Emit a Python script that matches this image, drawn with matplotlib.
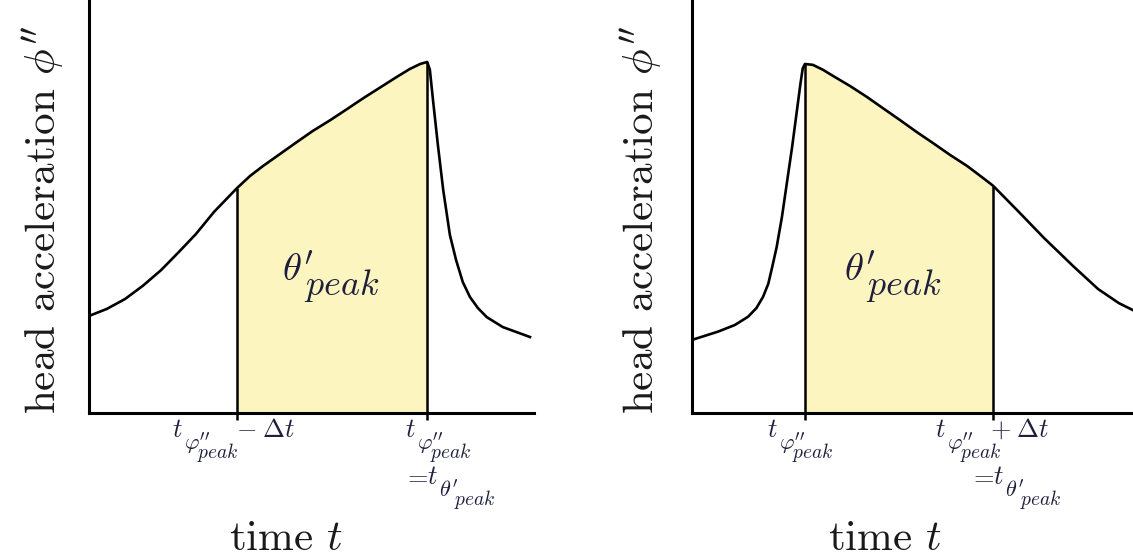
import numpy as np
import matplotlib
matplotlib.use("Agg")
import matplotlib.pyplot as plt

plt.rcParams["font.family"] = "serif"
plt.rcParams["font.serif"] = ["cmr10", "DejaVu Serif"]
plt.rcParams["mathtext.fontset"] = "cm"
plt.rcParams["axes.unicode_minus"] = False

# --- data (arbitrary units) ---
# left: slow rise to the peak, then fast drop
t_left = [0.00, 0.40, 0.81, 1.21, 1.62, 2.02, 2.40, 2.81, 3.33, 3.62, 3.91,
          4.29, 4.67, 5.03, 5.42, 5.80, 6.16, 6.54, 6.92, 7.21, 7.44, 7.60,
          7.66, 7.73, 7.84, 7.96, 8.11, 8.25, 8.40, 8.56, 8.74, 8.94, 9.30, 9.91]
acc_left = [2.35, 2.52, 2.76, 3.08, 3.46, 3.90, 4.33, 4.87, 5.45, 5.74, 5.98,
            6.27, 6.56, 6.83, 7.09, 7.36, 7.62, 7.88, 8.14, 8.33, 8.45, 8.50,
            8.31, 7.58, 6.49, 5.40, 4.31, 3.70, 3.17, 2.81, 2.54, 2.32, 2.08, 1.84]
shade_left = (3.33, 7.60)

# right: fast rise to the peak, then slow decay
t_right = [0.00, 0.59, 0.97, 1.27, 1.46, 1.61, 1.73, 1.82, 1.92, 2.04, 2.15,
           2.27, 2.38, 2.46, 2.51, 2.56, 2.74, 2.97, 3.20, 3.58, 3.97, 4.33,
           4.72, 5.10, 5.46, 5.85, 6.24, 6.60, 6.83, 7.41, 7.98, 8.64, 9.21,
           9.68, 10.00]
acc_right = [1.77, 1.97, 2.13, 2.33, 2.54, 2.81, 3.13, 3.54, 4.02, 4.75, 5.56,
             6.44, 7.33, 7.98, 8.34, 8.45, 8.43, 8.31, 8.16, 7.92, 7.65, 7.38,
             7.09, 6.80, 6.54, 6.25, 5.98, 5.69, 5.50, 4.87, 4.24, 3.56, 3.00,
             2.66, 2.49]
shade_right = (2.56, 6.83)

txt_col = "#1e1f3c"
lab_col = "#1a1a1a"
fill_col = "#fdf5c0"

fig = plt.figure(figsize=(11.33, 5.56), dpi=100)
W, H = 1133.0, 556.0

ax0 = fig.add_axes([89 / W, 1 - 413 / H, 445 / W, 413 / H])
ax1 = fig.add_axes([692 / W, 1 - 413 / H, 441 / W, 413 / H])


def draw_panel(ax, t, acc, shade):
    t = np.array(t)
    acc = np.array(acc)
    lo, hi = shade
    mask = (t >= lo - 1e-9) & (t <= hi + 1e-9)
    ax.fill_between(t, 0, acc, where=mask, color=fill_col, lw=0)
    ax.plot(t, acc, color="black", lw=1.9, solid_joinstyle="round")
    for x in shade:
        y = acc[np.argmin(np.abs(t - x))]
        ax.vlines(x, 0, y, color="black", lw=1.8)
    ax.set_xlim(0, 10)
    ax.set_ylim(0, 10)
    for s in ["top", "right"]:
        ax.spines[s].set_visible(False)
    for s in ["left", "bottom"]:
        ax.spines[s].set_linewidth(2.2)
    ax.set_yticks([])
    ax.set_xticks(list(shade))
    ax.set_xticklabels([])
    ax.tick_params(axis="x", direction="out", length=5, width=1.8)


draw_panel(ax0, t_left, acc_left, shade_left)
draw_panel(ax1, t_right, acc_right, shade_right)


def piece(ax, x, s, dx, dy, size):
    # dx: pixels right of the tick, dy: baseline in pixels below the axis line
    ax.annotate(s, xy=(x, 0), xycoords=("data", "axes fraction"),
                xytext=(dx, -dy), textcoords="offset pixels",
                ha="left", va="baseline", fontsize=size, color=txt_col)


def t_sub(ax, x, dx, dy, sym, sym_dx, peak_dx, extra=None, extra_dx=0):
    # t with a LaTeX-like (larger) subscript: t_{sym_{peak}}
    piece(ax, x, r"$t$", dx, dy, 19)
    piece(ax, x, "$" + sym + "$", dx + sym_dx, dy + 13, 16)
    piece(ax, x, r"$peak$", dx + peak_dx, dy + 21, 14)
    if extra:
        piece(ax, x, extra, dx + extra_dx, dy, 19)


phi2 = r"\varphi^{\prime\prime}"
theta1 = r"\theta^{\prime}"

# left panel tick labels
t_sub(ax0, shade_left[0], -65, 24, phi2, 12, 25, r"$-\;\Delta t$", 64)
t_sub(ax0, shade_left[1], -22, 24, phi2, 12, 25)
piece(ax0, shade_left[1], r"$=$", -24, 71, 19)
t_sub(ax0, shade_left[1], 0, 71, theta1, 12, 27)

# right panel tick labels
t_sub(ax1, shade_right[0], -38, 24, phi2, 12, 25)
t_sub(ax1, shade_right[1], -58, 24, phi2, 12, 25, r"$+\;\Delta t$", 55)
piece(ax1, shade_right[1], r"$=$", -24, 71, 19)
t_sub(ax1, shade_right[1], 0, 71, theta1, 12, 27)


# area labels (theta' with a large "peak" subscript), baseline positions
def area_label(x, y):
    fig.text(x / W, 1 - y / H, "$" + theta1 + "$", ha="left", va="baseline",
             fontsize=28, color=txt_col)
    fig.text((x + 22) / W, 1 - (y + 14) / H, r"$peak$", ha="left",
             va="baseline", fontsize=26, color=txt_col)


area_label(282, 281)
area_label(844, 281)

# axis titles
for xl, yl in [(286, 21), (885, 619)]:
    fig.text(xl / W, 1 - 550 / H, r"time $t$", ha="center", va="baseline",
             fontsize=31, color=lab_col)
    fig.text(yl / W, 1 - 414 / H, r"head acceleration $\phi^{\prime\prime}$",
             rotation=90, ha="left", va="bottom", fontsize=31, color=lab_col)

fig.savefig("out.png", dpi=100, facecolor="white")
